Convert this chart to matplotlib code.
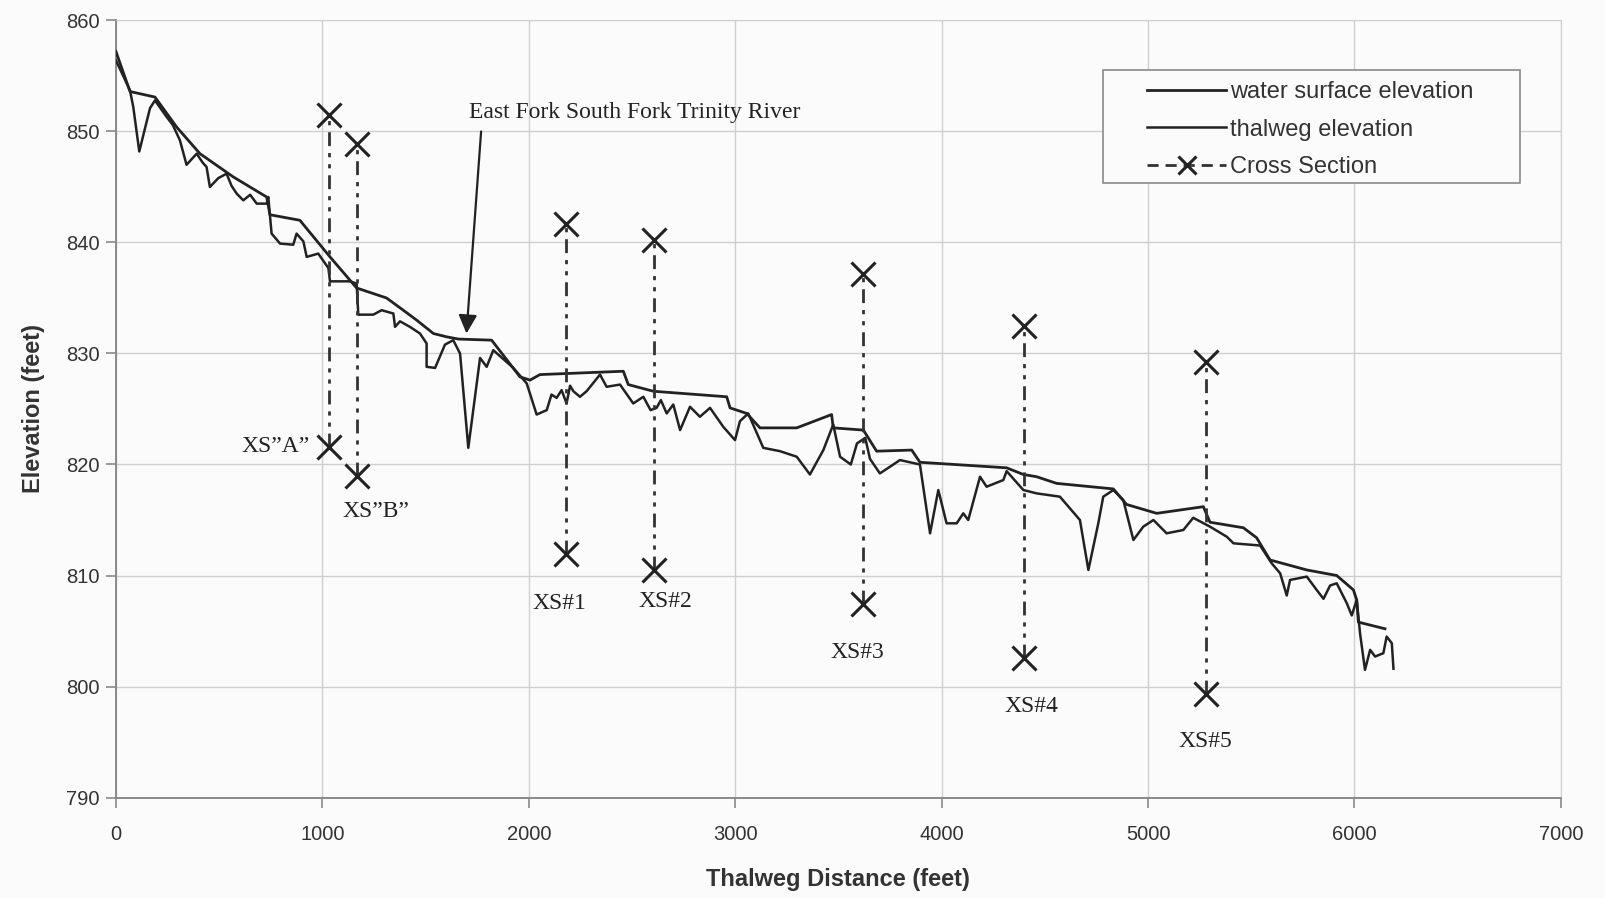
import matplotlib
matplotlib.use("Agg")
import matplotlib.pyplot as plt
from matplotlib.lines import Line2D
from matplotlib.patches import Rectangle

# water surface profile along the thalweg
ws_dist = [0, 68, 189, 294, 407, 569, 730, 746, 891, 1037, 1166, 1311, 1392,
           1457, 1538, 1602, 1659, 1820, 1957, 2006, 2054, 2458, 2482, 2603,
           2959, 2975, 3056, 3120, 3298, 3467, 3475, 3621, 3685, 3855, 3895,
           4315, 4396, 4460, 4557, 4832, 4896, 5042, 5268, 5300, 5462, 5526,
           5591, 5769, 5914, 5995, 6011, 6019, 6148]
ws_elev = [857.2, 853.6, 853.1, 850.4, 848.0, 845.9, 844.1, 842.5, 842.0, 838.7,
           835.9, 835.0, 833.9, 833.0, 831.8, 831.5, 831.3, 831.2, 827.9, 827.6,
           828.1, 828.4, 827.2, 826.6, 826.1, 825.1, 824.6, 823.3, 823.3, 824.5,
           823.3, 823.1, 821.2, 821.3, 820.2, 819.7, 819.1, 818.9, 818.3, 817.8,
           816.4, 815.6, 816.2, 814.8, 814.3, 813.4, 811.4, 810.5, 810.0, 808.7,
           807.8, 805.8, 805.2]

# thalweg (channel bottom) profile
thal_dist = [0, 68, 84, 113, 165, 189, 246, 275, 310, 342, 391, 420, 439, 455,
             496, 536, 560, 585, 617, 650, 682, 730, 738, 754, 795, 859, 875,
             908, 924, 980, 1029, 1037, 1134, 1166, 1174, 1247, 1287, 1344, 1352,
             1376, 1424, 1473, 1505, 1505, 1546, 1594, 1634, 1667, 1707, 1764,
             1796, 1828, 1925, 1990, 2038, 2087, 2110, 2135, 2159, 2183, 2200,
             2216, 2248, 2280, 2345, 2377, 2442, 2506, 2555, 2590, 2619, 2640,
             2668, 2700, 2733, 2781, 2829, 2878, 2942, 2999, 3023, 3063, 3136,
             3217, 3298, 3362, 3427, 3475, 3508, 3560, 3590, 3630, 3653, 3701,
             3750, 3798, 3895, 3944, 3984, 4024, 4073, 4105, 4129, 4186, 4218,
             4299, 4315, 4396, 4460, 4573, 4670, 4711, 4759, 4783, 4832, 4880,
             4929, 4977, 5026, 5090, 5171, 5219, 5300, 5381, 5414, 5543, 5599,
             5640, 5672, 5688, 5769, 5817, 5850, 5882, 5914, 5963, 5987, 6011,
             6027, 6051, 6076, 6100, 6140, 6156, 6181, 6189]
thal_elev = [856.4, 853.7, 852.2, 848.2, 852.1, 852.8, 851.3, 850.6, 849.2, 847.0,
             848.0, 847.2, 846.8, 845.0, 845.8, 846.2, 845.1, 844.4, 843.8, 844.3,
             843.5, 843.5, 844.1, 840.8, 839.9, 839.8, 840.8, 840.1, 838.7, 839.0,
             837.7, 836.5, 836.5, 836.3, 833.5, 833.5, 833.9, 833.6, 832.4, 832.9,
             832.4, 831.8, 830.9, 828.8, 828.7, 830.8, 831.2, 830.0, 821.5, 829.6,
             828.8, 830.3, 828.7, 827.3, 824.5, 824.9, 826.3, 826.0, 826.7, 825.5,
             827.1, 826.6, 826.1, 826.6, 828.1, 827.0, 827.2, 825.5, 826.1, 824.9,
             825.1, 825.8, 824.6, 825.4, 823.1, 825.2, 824.3, 825.1, 823.4, 822.2,
             823.9, 824.6, 821.5, 821.2, 820.7, 819.1, 821.3, 823.6, 820.7, 820.0,
             821.9, 822.4, 820.5, 819.2, 819.8, 820.4, 820.0, 813.8, 817.7, 814.7,
             814.7, 815.6, 815.0, 818.9, 818.0, 818.6, 819.4, 817.7, 817.4, 817.1,
             815.0, 810.5, 814.7, 817.1, 817.7, 816.8, 813.2, 814.4, 815.0, 813.8,
             814.1, 815.2, 814.4, 813.5, 812.9, 812.7, 811.1, 810.2, 808.2, 809.6,
             809.9, 808.7, 807.9, 809.1, 809.3, 807.5, 806.4, 807.8, 804.8, 801.5,
             803.3, 802.7, 803.0, 804.5, 803.9, 801.6]

# surveyed cross sections
xs_names = ["XS\u201dA\u201d", "XS\u201dB\u201d", "XS#1", "XS#2", "XS#3", "XS#4", "XS#5"]
xs_dist = [1032, 1170, 2182, 2609, 3621, 4400, 5283]
xs_top = [851.5, 848.9, 841.7, 840.2, 837.2, 832.5, 829.2]
xs_bottom = [821.6, 819.0, 811.9, 810.5, 807.4, 802.6, 799.3]

tributary = "East Fork South Fork Trinity River"
tributary_dist = 1698
tributary_elev = 831.8

sans = "Liberation Sans"
serif = "Liberation Serif"
ink = "#222222"
grey = "#333333"

fig = plt.figure(figsize=(16.06, 8.98), dpi=100)
fig.patch.set_facecolor("#fbfbfb")
ax = fig.add_axes([0.0722, 0.1119, 0.8997, 0.8653])
ax.set_facecolor("#fbfbfb")

ax.plot(ws_dist, ws_elev, color=ink, lw=2.0, zorder=3)
ax.plot(thal_dist, thal_elev, color=ink, lw=1.8, zorder=3)

xs_dash = (0, (5, 2.5, 1.5, 2.5, 1.5, 2.5))
for d, top, bot in zip(xs_dist, xs_top, xs_bottom):
    ax.plot([d, d], [bot, top], color=grey, lw=2.0, linestyle=xs_dash, zorder=4)
    ax.plot([d, d], [bot, top], linestyle="none", marker="x", ms=17, mew=2.2,
            color=ink, zorder=5)

# label offsets (points) from each cross section's lower marker
offsets = [(-14, 0), (13, -26), (-5, -35), (8, -23), (-4, -35), (5, -35), (-1, -34)]
for name, d, bot, off in zip(xs_names, xs_dist, xs_bottom, offsets):
    ha = "right" if off[1] == 0 else "center"
    ax.annotate(name, (d, bot), xytext=off, textcoords="offset points",
                ha=ha, va="center", family=serif, fontsize=17, color=ink)

ax.text(2514, 851.7, tributary, ha="center", va="center", family=serif,
        fontsize=17, color=ink)
ax.annotate("", xy=(tributary_dist, tributary_elev), xytext=(1769, 850.0),
            arrowprops=dict(arrowstyle="-|>", color=ink, lw=1.6,
                            mutation_scale=28, shrinkA=0, shrinkB=0))

ax.set_xlim(0, 7000)
ax.set_ylim(790, 860)
ax.set_xticks(range(0, 7001, 1000))
ax.set_yticks(range(790, 861, 10))
ax.grid(True, color="#cfcfcf", lw=1.0)
ax.set_axisbelow(True)
for side in ["top", "right"]:
    ax.spines[side].set_color("#cfcfcf")
for side in ["left", "bottom"]:
    ax.spines[side].set_color("#8a8a8a")
    ax.spines[side].set_linewidth(1.4)
ax.tick_params(direction="out", length=7, width=1.2, color="#8a8a8a",
               labelsize=14.5, labelcolor=grey)
ax.tick_params(axis="x", pad=13)
ax.tick_params(axis="y", pad=5)
for lab in ax.get_xticklabels() + ax.get_yticklabels():
    lab.set_family(sans)

ax.set_xlabel("Thalweg Distance (feet)", family=sans, fontsize=17,
              fontweight="bold", color=grey, labelpad=17)
ax.set_ylabel("Elevation (feet)", family=sans, fontsize=17,
              fontweight="bold", color=grey, labelpad=15)

# legend frame drawn separately so the entries can sit with a wide left margin
ax.add_patch(Rectangle((0.683, 0.7904), 0.2887, 0.1463, transform=ax.transAxes,
                       facecolor="#fbfbfb", edgecolor="#8a8a8a", lw=1.2,
                       zorder=6))
handles = [
    Line2D([], [], color=ink, lw=2.0),
    Line2D([], [], color=ink, lw=1.8),
    Line2D([], [], color=grey, lw=2.0, linestyle=(0, (4, 2.5)),
           marker="x", ms=13, mew=2.2, mec=ink),
]
leg = ax.legend(handles, ["water surface elevation", "thalweg elevation",
                          "Cross Section"],
                loc="upper left", bbox_to_anchor=(0.7138, 0.922),
                prop={"family": sans, "size": 17}, handlelength=3.34,
                handletextpad=0.17, borderpad=0, labelspacing=0.66,
                frameon=False, borderaxespad=0)
leg.set_zorder(7)
for t in leg.get_texts():
    t.set_color(grey)

plt.savefig("out.png", dpi=100, facecolor=fig.get_facecolor())
